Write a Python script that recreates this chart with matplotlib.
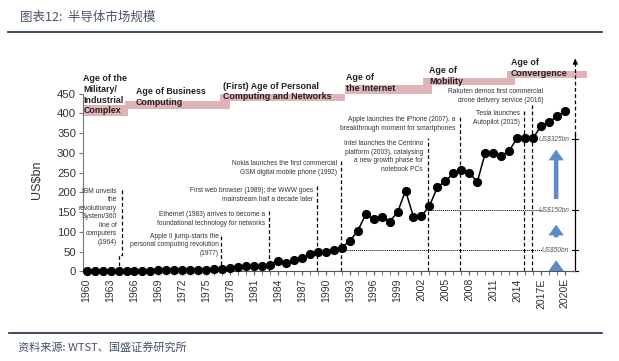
#!/usr/bin/env python3
"""Semiconductor market size chart (US$bn), 1960-2020E."""

import matplotlib

matplotlib.use("Agg")

import matplotlib.pyplot as plt
from matplotlib.lines import Line2D

# ---- data -----------------------------------------------------------------
YEARS = list(range(1960, 2021))
MARKET_BN = [
    1, 1, 1, 1, 1, 2, 2, 2, 2, 3, 3, 3, 3, 4, 4, 4, 5,      # 1960-1976
    6, 7.5, 10, 13, 14, 14, 17, 25, 22, 28, 33, 44, 48,     # 1977-1989
    50, 54, 60, 77, 102, 144, 132, 137, 126, 149,           # 1990-1999
    204, 138, 140, 165, 213, 228, 248, 257, 250, 226,       # 2000-2009
    299, 299, 292, 305, 337, 337, 337, 368, 377, 393, 405,  # 2010-2020E
]
TICK_YEARS = list(range(1960, 2021, 3))
TICK_LABELS = [str(y) for y in TICK_YEARS[:-2]] + ["2017E", "2020E"]

AGE_LABELS = [
    "Age of the\nMilitary/\nIndustrial\nComplex",
    "Age of Business\nComputing",
    "(First) Age of Personal\nComputing and Networks",
    "Age of\nthe Internet",
    "Age of\nMobility",
    "Age of\nConvergence",
]
AGE_START = [1959.5, 1964.8, 1976.7, 1992.4, 2002.2, 2012.7]
AGE_END = [1965.2, 1978.0, 1992.4, 2003.3, 2013.7, 2022.8]
AGE_LOW = [392, 412, 430, 450, 471, 489]
AGE_HIGH = [422, 432, 450, 471, 490, 507]
AGE_TEXT_X = [1959.6, 1966.2, 1977.1, 1992.5, 2003.0, 2013.2]
AGE_TEXT_TOP = [499, 466, 480, 501, 520, 539]

EVENT_YEARS = [1964, 1977, 1983, 1989, 1992, 2003, 2007, 2015, 2016]
EVENT_TOPS = [206, 94, 158, 219, 278, 337, 390, 408, 421]
EVENT_LABELS = [
    "IBM unveils\nthe\nrevolutionary\nSystem/360\nline of\ncomputers\n(1964)",
    "Apple II jump-starts the\npersonal computing revolution\n(1977)",
    "Ethernet (1983) arrives to become a\nfoundational technology for networks",
    "First web browser (1989); the WWW goes\nmainstream half a decade later",
    "Nokia launches the first commercial\nGSM digital mobile phone (1992)",
    "Intel launches the Centrino\nplatform (2003), catalysing\na new growth phase for\nnotebook PCs",
    "Apple launches the iPhone (2007), a\nbreakthrough moment for smartphones",
    "Tesla launches\nAutopilot (2015)",
    "Rakuten demos first commercial\ndrone delivery service (2016)",
]
EVENT_TEXT_X = [1963.8, 1976.6, 1982.4, 1988.4, 1991.4, 2002.2, 2006.2, 2014.4, 2017.3]
EVENT_TEXT_TOP = [211, 97, 152, 213, 281, 332, 393, 408, 463]

LEVEL_LABELS = ["US$50bn", "US$150bn", "US$325bn"]
LEVEL_VALUES = [54, 155, 335]
LEVEL_FROM = [1992, 2003, None]

ARROW_FROM = [16, 79, 176]
ARROW_TO = [35, 125, 315]

TITLE = "图表12:  半导体市场规模"
SOURCE = "资料来源: WTST、国盛证券研究所"

# ---- style ----------------------------------------------------------------
BAND = "#e0b3b7"
ARROW_BLUE = "#5b8cc8"
TEXT_DARK = "#333333"
NAVY = "#1c2a4a"
SANS = ["Liberation Sans", "DejaVu Sans"]
CJK = ["Noto Sans CJK SC", "DejaVu Sans"]

plt.rcParams["font.family"] = SANS

fig = plt.figure(figsize=(6.19, 3.61), dpi=100)
ax = fig.add_axes([83 / 619, 1 - 271.3 / 361, 517 / 619, 216.3 / 361])
ax.set_xlim(1959.54, 2024.4)
ax.set_ylim(0, 547.6)

# age bands + labels
for x0, x1, lo, hi in zip(AGE_START, AGE_END, AGE_LOW, AGE_HIGH):
    ax.fill_between([x0, x1], lo, hi, color=BAND, lw=0, zorder=1)
for lab, tx, top in zip(AGE_LABELS, AGE_TEXT_X, AGE_TEXT_TOP):
    ax.text(tx, top, lab, ha="left", va="top", fontsize=6.4, fontweight="bold",
            color="#222222", linespacing=1.25, zorder=3)

# event lines + notes
for yr, top, lab, tx, ty in zip(EVENT_YEARS, EVENT_TOPS, EVENT_LABELS, EVENT_TEXT_X, EVENT_TEXT_TOP):
    if yr == 1964:
        ax.plot([yr + 0.45, yr + 0.45, yr + 0.05, yr + 0.05], [top, 41, 41, 0],
                color="black", lw=0.9, ls=(0, (3, 2)), zorder=2)
    else:
        ax.plot([yr - 0.15, yr - 0.15], [0, top], color="black", lw=0.9, ls=(0, (3, 2)), zorder=2)
    ax.text(tx, ty, lab, ha="right", va="top", fontsize=4.8,
            color=TEXT_DARK, linespacing=1.3, zorder=3)

# level guides on the right
RIGHT_X = 2021.3
for lab, val, start in zip(LEVEL_LABELS, LEVEL_VALUES, LEVEL_FROM):
    if start is not None:
        ax.plot([start, 2017.1], [val, val], color="black", lw=0.7, ls=(0, (1, 1)), zorder=2)
    ax.text(2020.5, val, lab, ha="right", va="center", fontsize=4.7, style="italic",
            color="#555555")
    ax.plot([RIGHT_X - 0.4, RIGHT_X + 0.35], [val, val], color="black", lw=0.8)
ax.plot([RIGHT_X - 0.4, RIGHT_X + 0.35], [0, 0], color="black", lw=0.8, clip_on=False)
ax.plot([RIGHT_X, RIGHT_X], [0, 345], color="black", lw=0.9, clip_on=False)
ax.plot([RIGHT_X, RIGHT_X], [345, 530], color="black", lw=0.9, ls=(0, (3, 2)), clip_on=False)
ax.annotate("", xy=(RIGHT_X, 545), xytext=(RIGHT_X, 525),
            arrowprops=dict(arrowstyle="-|>", color="black", lw=0.9, mutation_scale=7),
            annotation_clip=False)

for y0, y1 in zip(ARROW_FROM, ARROW_TO):
    ax.annotate("", xy=(2018.9, y1), xytext=(2018.9, y0),
                arrowprops=dict(arrowstyle="simple,head_length=0.7,head_width=1.0,tail_width=0.3",
                                color=ARROW_BLUE, lw=0, mutation_scale=11))

# market series
ax.plot(YEARS, MARKET_BN, color="black", lw=1.1, marker="o", ms=5.6,
        markerfacecolor="black", markeredgecolor="black", clip_on=False, zorder=4)

# axes
for side in ("top", "right"):
    ax.spines[side].set_visible(False)
ax.spines["left"].set_bounds(0, 450)
ax.spines["bottom"].set_bounds(1959.54, 2021.3)
ax.spines["left"].set_color("#777777")
ax.spines["bottom"].set_color("#555555")
ax.set_yticks(range(0, 451, 50))
ax.tick_params(axis="y", labelsize=8.2, length=3, color="#777777", labelcolor=TEXT_DARK, pad=2)
ax.set_xticks(TICK_YEARS)
ax.set_xticklabels(TICK_LABELS, rotation=90)
ax.set_xticks(YEARS, minor=True)
ax.tick_params(axis="x", which="both", length=3, color="#555555", labelsize=7.6,
               labelcolor=TEXT_DARK, pad=2)

fig.text(37 / 619, 1 - 180 / 361, "US$bn", rotation=90, ha="center", va="center",
         fontsize=9, color=TEXT_DARK)

# header / footer
fig.text(20 / 619, 1 - 17 / 361, TITLE, ha="left", va="center", fontsize=9,
         family=CJK, color="#4a5568", style="italic")
fig.add_artist(Line2D([8 / 619, 602 / 619], [1 - 32 / 361] * 2, color=NAVY, lw=1.2))
fig.add_artist(Line2D([9 / 619, 602 / 619], [1 - 333 / 361] * 2, color=NAVY, lw=1.2))
fig.text(18 / 619, 1 - 347 / 361, SOURCE, ha="left", va="center", fontsize=8,
         family=CJK, color="#44506a", style="italic")

fig.savefig("out.png", dpi=100)
